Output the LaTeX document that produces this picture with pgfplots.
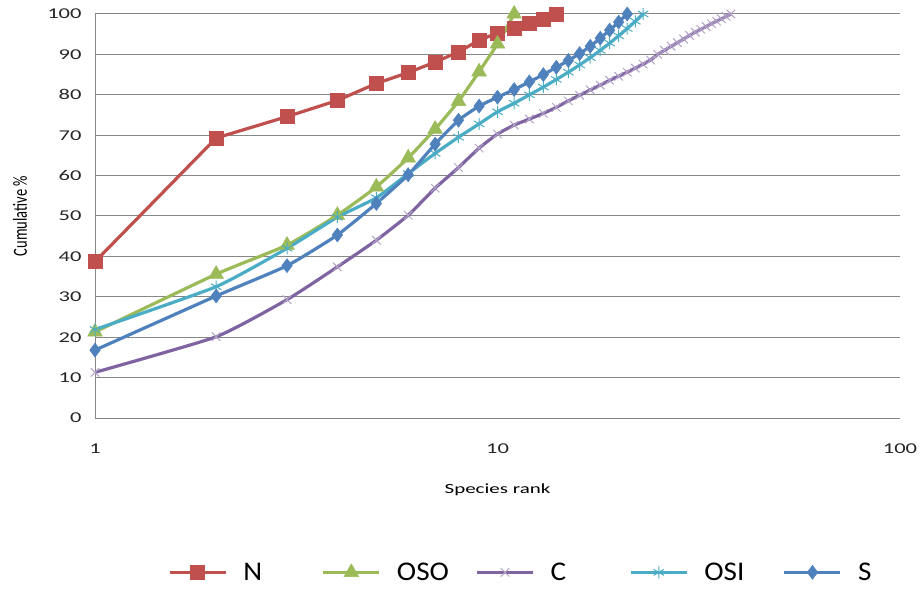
\documentclass[border=0pt]{standalone}
\usepackage{pgfplots}
\pgfplotsset{compat=1.18}
\usepackage{fontspec}
\setmainfont{Carlito}
\newfontfamily\tickfont[FakeStretch=1.5]{Carlito}
\newfontfamily\legfont[FakeStretch=1.08]{Carlito}

\definecolor{cN}{HTML}{C0504D}
\definecolor{cOSO}{HTML}{9BBB59}
\definecolor{cC}{HTML}{8064A2}
\definecolor{cOSI}{HTML}{4BACC6}
\definecolor{cS}{HTML}{4F81BD}
\definecolor{gridgray}{HTML}{878787}

% legend text cell: a gap after the line sample, then the name
\newcommand{\legtext}[1]{\makebox[92.5pt][l]{\hspace{15pt}#1}}

\begin{document}
\begin{tikzpicture}[x=1pt,y=1pt]
\path[use as bounding box] (0,0) rectangle (920,589);
\begin{axis}[
  at={(95pt,171pt)}, anchor=south west,
  scale only axis, width=805pt, height=404pt,
  xmode=log, xmin=1, xmax=100, ymin=0, ymax=100,
  xtick={1,10,100}, xticklabels={1,10,100}, xminorticks=false,
  ytick={0,10,...,100},
  axis x line=bottom, axis y line=left,
  axis line style={-, draw=gridgray, line width=1pt},
  major tick length=0pt,
  ymajorgrids, grid style={draw=gridgray, line width=1pt},
  ticklabel style={font=\tickfont\fontsize{15}{17}\selectfont, text=black!85},
  /pgf/number format/assume math mode=true,
  yticklabel style={xshift=-10pt},
  xticklabel style={yshift=-22pt},
  every axis x label/.style={at={(axis description cs:0.5,-0.178)}, anchor=center},
  every axis y label/.style={at={(axis description cs:-0.093,0.5)}, rotate=90, anchor=center},
  xlabel={\tickfont\fontsize{14}{16}\selectfont Species rank},
  ylabel={\fontsize{14.5}{16}\selectfont\scalebox{1}[1.38]{Cumulative \%}},
  legend columns=5,
  legend style={at={(axis description cs:0.0905,-0.382)}, anchor=west, draw=none,
    font=\legfont\fontsize{27}{29}\selectfont, inner sep=0pt,
    nodes={inner sep=1pt},
    /tikz/every even column/.append style={column sep=0pt}},
  legend image code/.code={\draw[#1, mark repeat=2, mark phase=2]
    plot coordinates {(0pt,0pt) (28pt,0pt) (56pt,0pt)};},
  every axis plot/.append style={line width=3.2pt},
]
% N
\addplot[cN, sharp plot, mark=square*, mark size=7pt, mark options={fill=cN, line width=0.5pt}]
  coordinates {(1,38.7)(2,69.3)(3,74.6)(4,78.6)(5,82.8)(6,85.5)(7,88.1)(8,90.6)
  (9,93.5)(10,95.3)(11,96.5)(12,97.6)(13,98.8)(14,100)};
\addlegendentry{\legtext{N}}
% OSO
\addplot[cOSO, smooth, tension=0.3, mark=triangle*, mark size=8.5pt, mark options={fill=cOSO, line width=0.5pt}]
  coordinates {(1,21.3)(2,35.6)(3,42.8)(4,50.2)(5,57.2)(6,64.4)(7,71.5)(8,78.4)
  (9,85.7)(10,92.6)(11,100)};
\addlegendentry{\legtext{OSO}}
% C
\addplot[cC, smooth, tension=0.3, mark=x, mark size=6pt, mark options={draw=cC!60!white, line width=1pt}]
  coordinates {(1,11.3)(2,20.1)(3,29.3)(4,37.4)(5,44.0)(6,50.2)(7,56.9)(8,62.0)
  (9,66.8)(10,70.3)(11,72.5)(12,74.0)(13,75.4)(14,76.9)(15,78.5)(16,79.9)(17,81.2)
  (18,82.4)(19,83.6)(20,84.6)(21,85.6)(22,86.6)(23,87.6)(24,88.6)(25,90.0)(26,91.0)
  (27,92.0)(28,92.9)(29,93.8)(30,94.7)(31,95.5)(32,96.2)(33,96.9)(34,97.6)(35,98.2)
  (36,98.8)(37,99.4)(38,100)};
\addlegendentry{\legtext{C}}
% OSI
\addplot[cOSI, smooth, tension=0.3, mark=asterisk, mark size=6pt, mark options={line width=1pt}]
  coordinates {(1,21.9)(2,32.5)(3,42.0)(4,49.7)(5,54.5)(6,60.5)(7,65.5)(8,69.5)
  (9,72.8)(10,75.8)(11,77.9)(12,80.0)(13,81.9)(14,83.8)(15,85.6)(16,87.4)(17,89.2)
  (18,91.0)(19,92.8)(20,94.6)(21,96.4)(22,98.2)(23,100)};
\addlegendentry{\legtext{OSI}}
% S
\addplot[cS, smooth, tension=0.3, mark=diamond*, mark size=7pt, mark options={fill=cS, line width=0.5pt}]
  coordinates {(1,16.8)(2,30.2)(3,37.7)(4,45.3)(5,53.1)(6,60.2)(7,67.8)(8,73.7)
  (9,77.2)(10,79.4)(11,81.3)(12,83.2)(13,85.0)(14,86.8)(15,88.5)(16,90.2)(17,92.0)
  (18,94.0)(19,96.0)(20,98.0)(21,100)};
\addlegendentry{\makebox[40pt][l]{\hspace{15pt}S}}
\end{axis}
\end{tikzpicture}
\end{document}
